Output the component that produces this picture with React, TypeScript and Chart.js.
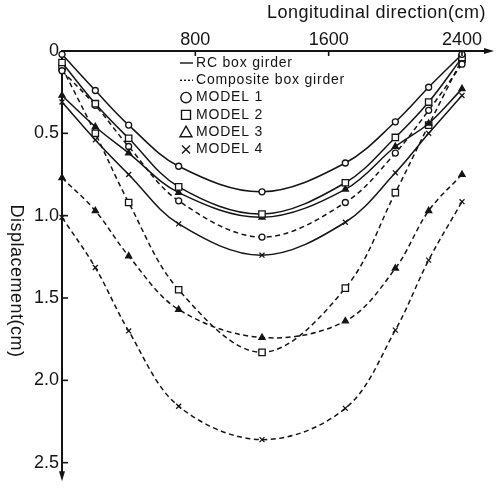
import React, { useEffect, useRef } from "react";
import { Chart, registerables } from "chart.js";

Chart.register(...registerables);

// Longitudinal positions (cm)
const positions = [0, 200, 400, 700, 1200, 1700, 2000, 2200, 2400];

// Displacement (cm) — RC box girder (solid)
const rcModel1 = [0.02, 0.24, 0.45, 0.70, 0.855, 0.68, 0.43, 0.22, 0.02];
const rcModel2 = [0.07, 0.32, 0.53, 0.825, 0.99, 0.80, 0.525, 0.31, 0.04];
const rcModel3 = [0.27, 0.46, 0.62, 0.86, 1.01, 0.84, 0.58, 0.44, 0.23];
const rcModel4 = [0.31, 0.54, 0.75, 1.05, 1.24, 1.04, 0.74, 0.50, 0.27];

// Displacement (cm) — Composite box girder (dashed)
const cbModel1 = [0.12, 0.33, 0.58, 0.91, 1.13, 0.92, 0.62, 0.36, 0.08];
const cbModel2 = [0.10, 0.50, 0.92, 1.45, 1.83, 1.44, 0.86, 0.45, 0.05];
const cbModel3 = [0.77, 0.97, 1.245, 1.57, 1.74, 1.64, 1.32, 0.97, 0.75];
const cbModel4 = [1.01, 1.315, 1.70, 2.157, 2.36, 2.17, 1.695, 1.27, 0.915];

const xTicks = [800, 1600, 2400];
const yTicks = [0, 0.5, 1.0, 1.5, 2.0, 2.5];

const xTitle = "Longitudinal direction(cm)";
const yTitle = "Displacement(cm)";
const legendLines = ["RC box girder", "Composite box girder"];
const legendModels = ["MODEL 1", "MODEL 2", "MODEL 3", "MODEL 4"];

const INK = "#141414";
const SANS = "'Liberation Sans', Arial, sans-serif";

type Marker = "circle" | "rect" | "triangle" | "crossRot";
const markers: Marker[] = ["circle", "rect", "triangle", "crossRot"];
const markerRadius: Record<Marker, number> = { circle: 3, rect: 4.5, triangle: 3.5, crossRot: 3.5 };

function series(values: number[], model: number, dashed: boolean) {
  const m = markers[model];
  return {
    label: (dashed ? "Composite " : "RC ") + legendModels[model],
    data: positions.map((x, i) => ({ x, y: values[i] })),
    borderColor: INK,
    borderWidth: 1.5,
    borderDash: dashed ? [5, 3.5] : [],
    pointStyle: m,
    pointRadius: markerRadius[m],
    pointBorderWidth: 1.3,
    pointBorderColor: INK,
    pointBackgroundColor: m === "triangle" ? INK : "#ffffff",
    tension: 0.35,
    fill: false,
    clip: false as const,
  };
}

function drawMarker(ctx: CanvasRenderingContext2D, m: Marker, x: number, y: number) {
  ctx.beginPath();
  if (m === "circle") {
    ctx.arc(x, y, 5.2, 0, Math.PI * 2);
  } else if (m === "rect") {
    ctx.rect(x - 4.5, y - 4.5, 9, 9);
  } else if (m === "triangle") {
    ctx.moveTo(x, y - 6);
    ctx.lineTo(x + 6, y + 4.5);
    ctx.lineTo(x - 6, y + 4.5);
    ctx.closePath();
  } else {
    ctx.moveTo(x - 4, y - 4);
    ctx.lineTo(x + 4, y + 4);
    ctx.moveTo(x + 4, y - 4);
    ctx.lineTo(x - 4, y + 4);
  }
  ctx.stroke();
}

const decor = {
  id: "decor",
  afterDraw(chart: any) {
    const ctx: CanvasRenderingContext2D = chart.ctx;
    const { left, top, right, bottom } = chart.chartArea;
    const xs = chart.scales.x;
    const ys = chart.scales.y;
    ctx.save();
    ctx.strokeStyle = INK;
    ctx.fillStyle = INK;
    ctx.lineWidth = 2;
    ctx.setLineDash([]);
    // arrows
    ctx.beginPath();
    ctx.moveTo(right + 6, top);
    ctx.lineTo(right - 4, top - 3);
    ctx.lineTo(right - 4, top + 3);
    ctx.closePath();
    ctx.fill();
    ctx.beginPath();
    ctx.moveTo(left, bottom + 7);
    ctx.lineTo(left - 3, bottom - 3);
    ctx.lineTo(left + 3, bottom - 3);
    ctx.closePath();
    ctx.fill();
    // tick marks (inside)
    ctx.lineWidth = 1.6;
    xTicks.forEach((v) => {
      const px = xs.getPixelForValue(v);
      ctx.beginPath();
      ctx.moveTo(px, top);
      ctx.lineTo(px, top + 5);
      ctx.stroke();
    });
    yTicks.slice(1).forEach((v) => {
      const py = ys.getPixelForValue(v);
      ctx.beginPath();
      ctx.moveTo(left, py);
      ctx.lineTo(left + 6, py);
      ctx.stroke();
    });
    // axis titles
    ctx.font = "18px " + SANS;
    (ctx as any).letterSpacing = "0.5px";
    ctx.textAlign = "right";
    ctx.textBaseline = "middle";
    ctx.fillText(xTitle, 486, 13);
    ctx.save();
    ctx.translate(16, 281);
    ctx.rotate(Math.PI / 2);
    ctx.textAlign = "center";
    ctx.fillText(yTitle, 0, 0);
    ctx.restore();
    // legend
    const rowY = (i: number) => 63 + 17.3 * i;
    const symX = 186;
    const textX = 196;
    ctx.font = "14px " + SANS;
    (ctx as any).letterSpacing = "0.8px";
    ctx.textAlign = "left";
    ctx.lineWidth = 1.4;
    legendLines.forEach((t, i) => {
      const y = rowY(i);
      ctx.setLineDash(i === 0 ? [] : [2, 2]);
      ctx.beginPath();
      ctx.moveTo(180, y);
      ctx.lineTo(193, y);
      ctx.stroke();
      ctx.setLineDash([]);
      ctx.fillText(t, textX, y);
    });
    legendModels.forEach((t, i) => {
      const y = rowY(i + 2);
      drawMarker(ctx, markers[i], symX, y);
      ctx.fillText(t, textX, y);
    });
    ctx.restore();
  },
};

export default function App() {
  const ref = useRef<HTMLCanvasElement | null>(null);
  useEffect(() => {
    if (!ref.current) return;
    const chart = new Chart(ref.current, {
      type: "line",
      data: {
        datasets: [
          series(rcModel1, 0, false),
          series(rcModel2, 1, false),
          series(rcModel3, 2, false),
          series(rcModel4, 3, false),
          series(cbModel1, 0, true),
          series(cbModel2, 1, true),
          series(cbModel3, 2, true),
          series(cbModel4, 3, true),
        ] as any,
      },
      options: {
        animation: false,
        responsive: false,
        devicePixelRatio: 1,
        layout: { padding: { left: 0, top: 0, right: 15, bottom: 8 } },
        plugins: { legend: { display: false }, tooltip: { enabled: false } },
        scales: {
          x: {
            type: "linear",
            position: "top",
            min: 0,
            max: 2556,
            afterBuildTicks: (s: any) => {
              s.ticks = xTicks.map((v) => ({ value: v }));
            },
            afterFit: (s: any) => {
              s.height = 51;
            },
            grid: { display: false, drawTicks: false },
            border: { display: true, color: INK, width: 2 },
            ticks: {
              autoSkip: false,
              maxRotation: 0,
              padding: 0,
              color: INK,
              font: { family: SANS, size: 18 },
              callback: (v: any) => String(v),
            },
          },
          y: {
            type: "linear",
            reverse: true,
            min: 0,
            max: 2.57,
            afterBuildTicks: (s: any) => {
              s.ticks = yTicks.map((v) => ({ value: v }));
            },
            afterFit: (s: any) => {
              s.width = 62;
            },
            grid: { display: false, drawTicks: false },
            border: { display: true, color: INK, width: 2 },
            ticks: {
              autoSkip: false,
              padding: 3,
              color: INK,
              font: { family: SANS, size: 18 },
              callback: (v: any) => (v === 0 ? "0" : Number(v).toFixed(1)),
            },
          },
        },
      },
      plugins: [decor],
    });
    return () => chart.destroy();
  }, []);
  return (
    <div style={{ position: "fixed", left: 0, top: 0, width: 503, height: 488, background: "#fff" }}>
      <canvas ref={ref} width={503} height={488} style={{ display: "block" }} />
    </div>
  );
}
